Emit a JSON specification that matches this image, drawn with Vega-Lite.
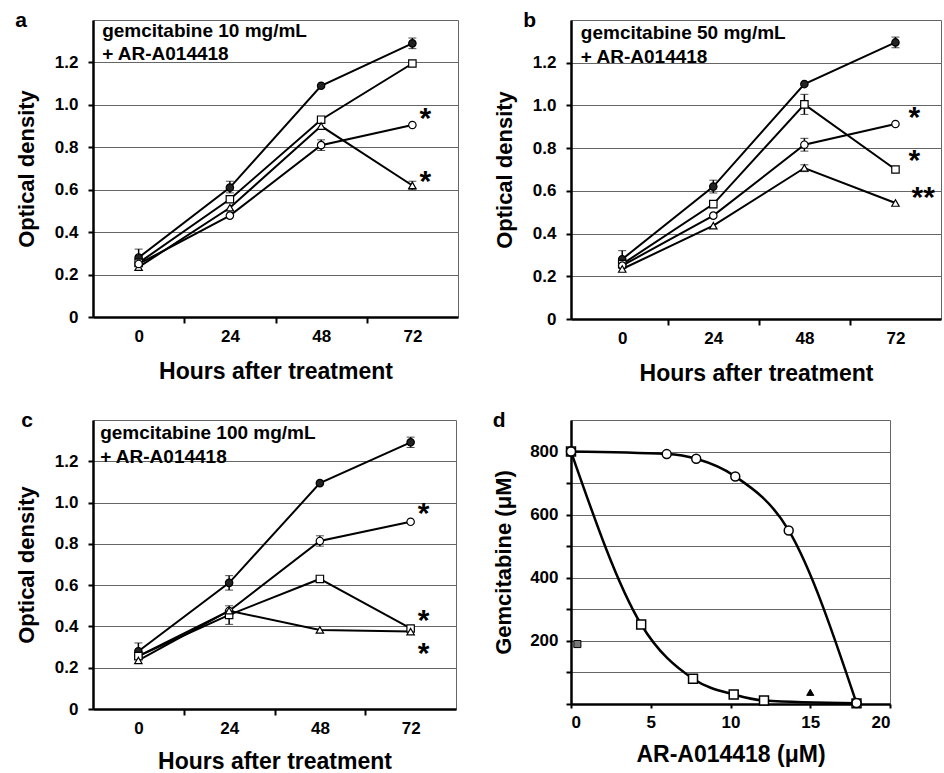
{
  "$schema": "https://vega.github.io/schema/vega-lite/v6.json",
  "background": "white",
  "padding": {"left": 14, "top": 9, "right": 0, "bottom": 0},
  "config": {
    "font": "Liberation Sans",
    "view": {"stroke": "#666", "strokeWidth": 1},
    "axis": {
      "labelFont": "Liberation Sans", "labelFontSize": 17, "labelFontWeight": "bold", "labelColor": "black",
      "titleFont": "Liberation Sans", "titleFontSize": 22, "titleFontWeight": "bold", "titleColor": "black",
      "domainColor": "black", "domainWidth": 2.5, "tickColor": "black", "tickWidth": 2,
      "gridColor": "#666", "gridWidth": 1
    },
    "axisX": {"titleFontSize": 23},
    "title": {"font": "Liberation Sans", "fontSize": 21, "fontWeight": "bold", "anchor": "start", "frame": "bounds", "color": "black"}
  },
  "datasets": {
    "od": [
      {"p": "a", "s": "ctrl", "x": 0, "y": 0.28, "lo": 0.24, "hi": 0.32},
      {"p": "a", "s": "ctrl", "x": 24, "y": 0.61, "lo": 0.585, "hi": 0.64},
      {"p": "a", "s": "ctrl", "x": 48, "y": 1.09},
      {"p": "a", "s": "ctrl", "x": 72, "y": 1.29, "lo": 1.265, "hi": 1.315},
      {"p": "a", "s": "sq", "x": 0, "y": 0.255},
      {"p": "a", "s": "sq", "x": 24, "y": 0.555},
      {"p": "a", "s": "sq", "x": 48, "y": 0.93},
      {"p": "a", "s": "sq", "x": 72, "y": 1.195},
      {"p": "a", "s": "tri", "x": 0, "y": 0.235},
      {"p": "a", "s": "tri", "x": 24, "y": 0.515},
      {"p": "a", "s": "tri", "x": 48, "y": 0.9},
      {"p": "a", "s": "tri", "x": 72, "y": 0.62, "lo": 0.6, "hi": 0.64},
      {"p": "a", "s": "circ", "x": 0, "y": 0.25},
      {"p": "a", "s": "circ", "x": 24, "y": 0.478},
      {"p": "a", "s": "circ", "x": 48, "y": 0.81, "lo": 0.785, "hi": 0.835},
      {"p": "a", "s": "circ", "x": 72, "y": 0.905},

      {"p": "b", "s": "ctrl", "x": 0, "y": 0.28, "lo": 0.24, "hi": 0.32},
      {"p": "b", "s": "ctrl", "x": 24, "y": 0.62, "lo": 0.59, "hi": 0.65},
      {"p": "b", "s": "ctrl", "x": 48, "y": 1.1},
      {"p": "b", "s": "ctrl", "x": 72, "y": 1.295, "lo": 1.27, "hi": 1.32},
      {"p": "b", "s": "sq", "x": 0, "y": 0.257},
      {"p": "b", "s": "sq", "x": 24, "y": 0.538},
      {"p": "b", "s": "sq", "x": 48, "y": 1.005, "lo": 0.958, "hi": 1.052},
      {"p": "b", "s": "sq", "x": 72, "y": 0.7},
      {"p": "b", "s": "circ", "x": 0, "y": 0.25},
      {"p": "b", "s": "circ", "x": 24, "y": 0.484},
      {"p": "b", "s": "circ", "x": 48, "y": 0.816, "lo": 0.786, "hi": 0.846},
      {"p": "b", "s": "circ", "x": 72, "y": 0.913},
      {"p": "b", "s": "tri", "x": 0, "y": 0.234},
      {"p": "b", "s": "tri", "x": 24, "y": 0.437},
      {"p": "b", "s": "tri", "x": 48, "y": 0.707, "lo": 0.69, "hi": 0.722},
      {"p": "b", "s": "tri", "x": 72, "y": 0.543},

      {"p": "c", "s": "ctrl", "x": 0, "y": 0.28, "lo": 0.24, "hi": 0.32},
      {"p": "c", "s": "ctrl", "x": 24, "y": 0.611, "lo": 0.576, "hi": 0.646},
      {"p": "c", "s": "ctrl", "x": 48, "y": 1.094},
      {"p": "c", "s": "ctrl", "x": 72, "y": 1.292, "lo": 1.267, "hi": 1.317},
      {"p": "c", "s": "circ", "x": 0, "y": 0.256},
      {"p": "c", "s": "circ", "x": 24, "y": 0.475},
      {"p": "c", "s": "circ", "x": 48, "y": 0.814, "lo": 0.789, "hi": 0.839},
      {"p": "c", "s": "circ", "x": 72, "y": 0.907},
      {"p": "c", "s": "sq", "x": 0, "y": 0.256},
      {"p": "c", "s": "sq", "x": 24, "y": 0.456, "lo": 0.41, "hi": 0.5},
      {"p": "c", "s": "sq", "x": 48, "y": 0.63},
      {"p": "c", "s": "sq", "x": 72, "y": 0.39},
      {"p": "c", "s": "tri", "x": 0, "y": 0.235},
      {"p": "c", "s": "tri", "x": 24, "y": 0.476},
      {"p": "c", "s": "tri", "x": 48, "y": 0.383},
      {"p": "c", "s": "tri", "x": 72, "y": 0.375}
    ],
    "gem": [
      {"s": "sq", "x": 0, "y": 800},
      {"s": "sq", "x": 4.4, "y": 252},
      {"s": "sq", "x": 7.65, "y": 80},
      {"s": "sq", "x": 10.2, "y": 30},
      {"s": "sq", "x": 12.1, "y": 11},
      {"s": "sq", "x": 17.9, "y": 2},
      {"s": "circ", "x": 0, "y": 800},
      {"s": "circ", "x": 6.0, "y": 792},
      {"s": "circ", "x": 7.85, "y": 777},
      {"s": "circ", "x": 10.3, "y": 721},
      {"s": "circ", "x": 13.65, "y": 550},
      {"s": "circ", "x": 17.9, "y": 3},
      {"s": "sqf", "x": 0.4, "y": 190},
      {"s": "trif", "x": 15, "y": 37}
    ],
    "ann": [
      {"p": "a", "x": -9.6, "y": 1.32, "t": "gemcitabine 10 mg/mL"},
      {"p": "a", "x": -9.6, "y": 1.21, "t": "+ AR-A014418"},
      {"p": "b", "x": -10.9, "y": 1.31, "t": "gemcitabine 50 mg/mL"},
      {"p": "b", "x": -10.9, "y": 1.2, "t": "+ AR-A014418"},
      {"p": "c", "x": -10.1, "y": 1.308, "t": "gemcitabine 100 mg/mL"},
      {"p": "c", "x": -10.1, "y": 1.19, "t": "+ AR-A014418"}
    ],
    "stars": [
      {"p": "a", "x": 75.4, "y": 0.89, "t": "*"},
      {"p": "a", "x": 75.4, "y": 0.594, "t": "*"},
      {"p": "b", "x": 77, "y": 0.9, "t": "*"},
      {"p": "b", "x": 77, "y": 0.7, "t": "*"},
      {"p": "b", "x": 79.3, "y": 0.526, "t": "**"},
      {"p": "c", "x": 75.4, "y": 0.902, "t": "*"},
      {"p": "c", "x": 75.4, "y": 0.383, "t": "*"},
      {"p": "c", "x": 75.4, "y": 0.224, "t": "*"}
    ]
  },
  "columns": 2,
  "spacing": {"row": 23, "column": 33},
  "concat": [
    {
      "title": {"text": "a", "offset": -11},
      "width": 365, "height": 297,
      "encoding": {
        "x": {"field": "x", "type": "quantitative", "title": "Hours after treatment",
          "scale": {"domain": [-12, 84], "nice": false, "zero": false},
          "axis": {"values": [0, 12, 24, 36, 48, 60, 72], "grid": false,
            "labelExpr": "datum.value % 24 == 0 ? format(datum.value, 'd') : ''",
            "tickOpacity": {"condition": {"test": "datum.value % 24 != 0", "value": 1}, "value": 0},
            "tickSize": 6, "labelPadding": 5, "titlePadding": 16}},
        "y": {"field": "y", "type": "quantitative", "title": "Optical density",
          "scale": {"domain": [0, 1.4], "nice": false},
          "axis": {"values": [0, 0.2, 0.4, 0.6, 0.8, 1.0, 1.2], "grid": true,
            "labelExpr": "datum.value == 0 ? '0' : format(datum.value, '.1f')",
            "tickSize": 5, "labelPadding": 10, "titlePadding": 16}}
      },
      "layer": [
        {"data": {"name": "od"}, "transform": [{"filter": "datum.p == 'a'"}],
         "mark": {"type": "line", "color": "black", "strokeWidth": 2},
         "encoding": {"detail": {"field": "s"}}},
        {"data": {"name": "od"}, "transform": [{"filter": "datum.p == 'a' && isValid(datum.lo)"}],
         "mark": {"type": "errorbar", "ticks": {"size": 8, "color": "black", "strokeWidth": 1.5}, "rule": {"color": "black", "strokeWidth": 1.5}},
         "encoding": {"y": {"field": "lo", "type": "quantitative", "title": "Optical density"}, "y2": {"field": "hi"}}},
        {"data": {"name": "od"}, "transform": [{"filter": "datum.p == 'a'"}],
         "mark": {"type": "point", "filled": true, "stroke": "black", "strokeWidth": 1.2, "size": 55, "opacity": 1},
         "encoding": {
           "shape": {"field": "s", "scale": {"domain": ["ctrl", "circ", "sq", "tri", "trif", "sqf"], "range": ["circle", "circle", "square", "triangle-up", "triangle-up", "square"]}, "legend": null},
           "fill": {"field": "s", "scale": {"domain": ["ctrl", "circ", "sq", "tri", "trif", "sqf"], "range": ["#222", "white", "white", "white", "black", "#777"]}, "legend": null}}},
        {"data": {"name": "ann"}, "transform": [{"filter": "datum.p == 'a'"}],
         "mark": {"type": "text", "align": "left", "baseline": "alphabetic", "fontSize": 19, "fontWeight": "bold", "color": "black"},
         "encoding": {"text": {"field": "t"}}},
        {"data": {"name": "stars"}, "transform": [{"filter": "datum.p == 'a'"}],
         "mark": {"type": "text", "align": "center", "baseline": "alphabetic", "fontSize": 30, "fontWeight": "bold", "color": "black"},
         "encoding": {"text": {"field": "t"}}}
      ]
    },
    {
      "title": {"text": "b", "offset": -11, "dx": 30},
      "width": 370, "height": 299,
      "encoding": {
        "x": {"field": "x", "type": "quantitative", "title": "Hours after treatment",
          "scale": {"domain": [-13.5, 84], "nice": false, "zero": false},
          "axis": {"values": [0, 12, 24, 36, 48, 60, 72], "grid": false,
            "labelExpr": "datum.value % 24 == 0 ? format(datum.value, 'd') : ''",
            "tickOpacity": {"condition": {"test": "datum.value % 24 != 0", "value": 1}, "value": 0},
            "tickSize": 6, "labelPadding": 5, "titlePadding": 16}},
        "y": {"field": "y", "type": "quantitative", "title": "Optical density",
          "scale": {"domain": [0, 1.4], "nice": false},
          "axis": {"values": [0, 0.2, 0.4, 0.6, 0.8, 1.0, 1.2], "grid": true,
            "labelExpr": "datum.value == 0 ? '0' : format(datum.value, '.1f')",
            "tickSize": 5, "labelPadding": 10, "titlePadding": 16}}
      },
      "layer": [
        {"data": {"name": "od"}, "transform": [{"filter": "datum.p == 'b'"}],
         "mark": {"type": "line", "color": "black", "strokeWidth": 2},
         "encoding": {"detail": {"field": "s"}}},
        {"data": {"name": "od"}, "transform": [{"filter": "datum.p == 'b' && isValid(datum.lo)"}],
         "mark": {"type": "errorbar", "ticks": {"size": 8, "color": "black", "strokeWidth": 1.5}, "rule": {"color": "black", "strokeWidth": 1.5}},
         "encoding": {"y": {"field": "lo", "type": "quantitative", "title": "Optical density"}, "y2": {"field": "hi"}}},
        {"data": {"name": "od"}, "transform": [{"filter": "datum.p == 'b'"}],
         "mark": {"type": "point", "filled": true, "stroke": "black", "strokeWidth": 1.2, "size": 55, "opacity": 1},
         "encoding": {
           "shape": {"field": "s", "scale": {"domain": ["ctrl", "circ", "sq", "tri", "trif", "sqf"], "range": ["circle", "circle", "square", "triangle-up", "triangle-up", "square"]}, "legend": null},
           "fill": {"field": "s", "scale": {"domain": ["ctrl", "circ", "sq", "tri", "trif", "sqf"], "range": ["#222", "white", "white", "white", "black", "#777"]}, "legend": null}}},
        {"data": {"name": "ann"}, "transform": [{"filter": "datum.p == 'b'"}],
         "mark": {"type": "text", "align": "left", "baseline": "alphabetic", "fontSize": 19, "fontWeight": "bold", "color": "black"},
         "encoding": {"text": {"field": "t"}}},
        {"data": {"name": "stars"}, "transform": [{"filter": "datum.p == 'b'"}],
         "mark": {"type": "text", "align": "center", "baseline": "alphabetic", "fontSize": 30, "fontWeight": "bold", "color": "black"},
         "encoding": {"text": {"field": "t"}}}
      ]
    },
    {
      "title": {"text": "c", "offset": -11, "dx": 6},
      "width": 363, "height": 289,
      "encoding": {
        "x": {"field": "x", "type": "quantitative", "title": "Hours after treatment",
          "scale": {"domain": [-12, 84], "nice": false, "zero": false},
          "axis": {"values": [0, 12, 24, 36, 48, 60, 72], "grid": false,
            "labelExpr": "datum.value % 24 == 0 ? format(datum.value, 'd') : ''",
            "tickOpacity": {"condition": {"test": "datum.value % 24 != 0", "value": 1}, "value": 0},
            "tickSize": 6, "labelPadding": 5, "titlePadding": 14}},
        "y": {"field": "y", "type": "quantitative", "title": "Optical density",
          "scale": {"domain": [0, 1.4], "nice": false},
          "axis": {"values": [0, 0.2, 0.4, 0.6, 0.8, 1.0, 1.2], "grid": true,
            "labelExpr": "datum.value == 0 ? '0' : format(datum.value, '.1f')",
            "tickSize": 5, "labelPadding": 10, "titlePadding": 16}}
      },
      "layer": [
        {"data": {"name": "od"}, "transform": [{"filter": "datum.p == 'c'"}],
         "mark": {"type": "line", "color": "black", "strokeWidth": 2},
         "encoding": {"detail": {"field": "s"}}},
        {"data": {"name": "od"}, "transform": [{"filter": "datum.p == 'c' && isValid(datum.lo)"}],
         "mark": {"type": "errorbar", "ticks": {"size": 8, "color": "black", "strokeWidth": 1.5}, "rule": {"color": "black", "strokeWidth": 1.5}},
         "encoding": {"y": {"field": "lo", "type": "quantitative", "title": "Optical density"}, "y2": {"field": "hi"}}},
        {"data": {"name": "od"}, "transform": [{"filter": "datum.p == 'c'"}],
         "mark": {"type": "point", "filled": true, "stroke": "black", "strokeWidth": 1.2, "size": 55, "opacity": 1},
         "encoding": {
           "shape": {"field": "s", "scale": {"domain": ["ctrl", "circ", "sq", "tri", "trif", "sqf"], "range": ["circle", "circle", "square", "triangle-up", "triangle-up", "square"]}, "legend": null},
           "fill": {"field": "s", "scale": {"domain": ["ctrl", "circ", "sq", "tri", "trif", "sqf"], "range": ["#222", "white", "white", "white", "black", "#777"]}, "legend": null}}},
        {"data": {"name": "ann"}, "transform": [{"filter": "datum.p == 'c'"}],
         "mark": {"type": "text", "align": "left", "baseline": "alphabetic", "fontSize": 19, "fontWeight": "bold", "color": "black"},
         "encoding": {"text": {"field": "t"}}},
        {"data": {"name": "stars"}, "transform": [{"filter": "datum.p == 'c'"}],
         "mark": {"type": "text", "align": "center", "baseline": "alphabetic", "fontSize": 30, "fontWeight": "bold", "color": "black"},
         "encoding": {"text": {"field": "t"}}}
      ]
    },
    {
      "title": {"text": "d", "offset": -11},
      "width": 319, "height": 284,
      "encoding": {
        "x": {"field": "x", "type": "quantitative", "title": "AR-A014418 (μM)",
          "scale": {"domain": [0, 20], "nice": false},
          "axis": {"values": [0, 5, 10, 15, 20], "grid": false, "tickSize": 4, "labelPadding": 6, "titlePadding": 13}},
        "y": {"field": "y", "type": "quantitative", "title": "Gemcitabine  (μM)",
          "scale": {"domain": [0, 900], "nice": false},
          "axis": {"values": [0, 100, 200, 300, 400, 500, 600, 700, 800], "grid": true,
            "labelExpr": "datum.value % 200 == 0 && datum.value > 0 ? format(datum.value, 'd') : ''",
            "tickSize": 5, "labelPadding": 8, "titlePadding": 14}}
      },
      "layer": [
        {"data": {"name": "gem"}, "transform": [{"filter": "datum.s == 'circ' || datum.s == 'sq'"}],
         "mark": {"type": "line", "color": "black", "strokeWidth": 2.5, "interpolate": "monotone"},
         "encoding": {"detail": {"field": "s"}}},
        {"data": {"name": "gem"}, "transform": [{"filter": "datum.s == 'circ' || datum.s == 'sq'"}],
         "mark": {"type": "point", "filled": true, "stroke": "black", "strokeWidth": 1.5, "size": 80, "opacity": 1},
         "encoding": {
           "shape": {"field": "s", "scale": {"domain": ["ctrl", "circ", "sq", "tri", "trif", "sqf"], "range": ["circle", "circle", "square", "triangle-up", "triangle-up", "square"]}, "legend": null},
           "fill": {"field": "s", "scale": {"domain": ["ctrl", "circ", "sq", "tri", "trif", "sqf"], "range": ["#222", "white", "white", "white", "black", "#777"]}, "legend": null}}},
        {"data": {"name": "gem"}, "transform": [{"filter": "datum.s == 'sqf' || datum.s == 'trif'"}],
         "mark": {"type": "point", "filled": true, "stroke": "black", "strokeWidth": 1, "size": 50, "opacity": 1},
         "encoding": {
           "shape": {"field": "s", "scale": {"domain": ["ctrl", "circ", "sq", "tri", "trif", "sqf"], "range": ["circle", "circle", "square", "triangle-up", "triangle-up", "square"]}, "legend": null},
           "fill": {"field": "s", "scale": {"domain": ["ctrl", "circ", "sq", "tri", "trif", "sqf"], "range": ["#222", "white", "white", "white", "black", "#777"]}, "legend": null}}}
      ]
    }
  ]
}
